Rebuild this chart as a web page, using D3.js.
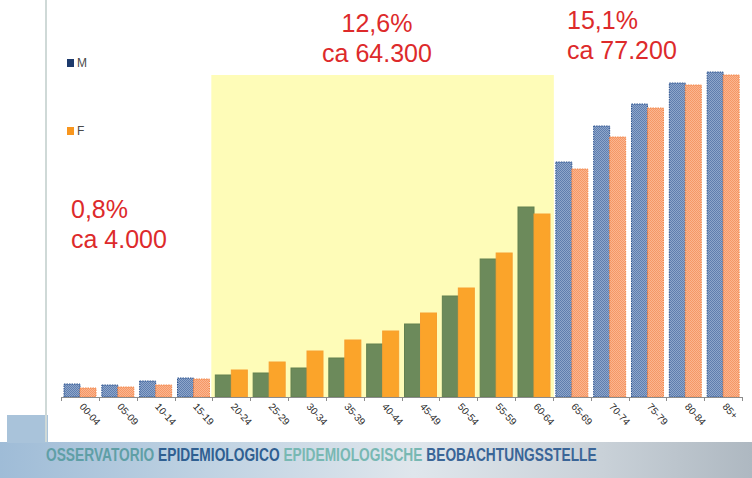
<!DOCTYPE html>
<html>
<head>
<meta charset="utf-8">
<script src="https://cdn.jsdelivr.net/npm/d3@7"></script>
<style>
  html, body { margin: 0; padding: 0; background: #fff; }
  svg { display: block; font-family: "Liberation Sans", Arial, sans-serif; }
</style>
</head>
<body>
<svg id="chart" width="752" height="478"></svg>
<script>
// Age classes and relative values for males (M) and females (F)
const ageGroups = ["00-04","05-09","10-14","15-19","20-24","25-29","30-34","35-39","40-44",
                   "45-49","50-54","55-59","60-64","65-69","70-74","75-79","80-84","85+"];
const valuesM = [13, 12, 16, 19, 22, 24, 29, 39, 53, 73, 101, 138, 190, 235, 271, 293, 314, 325];
const valuesF = [9, 10, 12, 18, 27, 35, 46, 57, 66, 84, 109, 144, 183, 228, 260, 289, 312, 322];
// Age range that is highlighted in the middle
const highlightFrom = "20-24";
const highlightTo = "60-64";
// Share/count annotations per age band
const notes = [
  { lines: ["0,8%", "ca 4.000"], anchor: "start" },
  { lines: ["12,6%", "ca 64.300"], anchor: "middle" },
  { lines: ["15,1%", "ca 77.200"], anchor: "start" }
];
const legendItems = ["M", "F"];
const footerParts = [
  { text: "OSSERVATORIO ", color: "#5f9fa6" },
  { text: "EPIDEMIOLOGICO ", color: "#2f5f91" },
  { text: "EPIDEMIOLOGISCHE ", color: "#78b8b3" },
  { text: "BEOBACHTUNGSSTELLE", color: "#3a6597" }
];

const svg = d3.select("#chart");
const W = 752, H = 478;

const x = d3.scaleBand().domain(ageGroups).range([61, 742]).paddingInner(0).paddingOuter(0);
const y = d3.scaleLinear().domain([0, 330]).range([397, 67]);

const defs = svg.append("defs");
// textured fills for the bars outside the highlighted range
function checker(id, c1, c2) {
  const p = defs.append("pattern").attr("id", id).attr("width", 2).attr("height", 2)
    .attr("patternUnits", "userSpaceOnUse");
  p.append("rect").attr("width", 2).attr("height", 2).attr("fill", c1);
  p.append("rect").attr("width", 1).attr("height", 1).attr("fill", c2);
  p.append("rect").attr("x", 1).attr("y", 1).attr("width", 1).attr("height", 1).attr("fill", c2);
}
checker("texM", "#8ea6cb", "#5f7eae");
checker("texF", "#fbb590", "#f59866");

const grad = defs.append("linearGradient").attr("id", "band").attr("x1", 0).attr("x2", 1).attr("y1", 0).attr("y2", 0);
grad.append("stop").attr("offset", "0").attr("stop-color", "#9fbcd7");
grad.append("stop").attr("offset", "0.25").attr("stop-color", "#bcd0e1");
grad.append("stop").attr("offset", "0.55").attr("stop-color", "#dfe6ec");
grad.append("stop").attr("offset", "0.8").attr("stop-color", "#c9d1d8");
grad.append("stop").attr("offset", "1").attr("stop-color", "#aeb8c1");

// footer band
svg.append("rect").attr("x", 0).attr("y", 442).attr("width", W).attr("height", H - 442).attr("fill", "url(#band)");
svg.append("rect").attr("x", 7).attr("y", 415).attr("width", 41).attr("height", 28).attr("fill", "#a9c3da");

// left frame line
svg.append("rect").attr("x", 45).attr("y", 0).attr("width", 2).attr("height", 442).attr("fill", "#cfd9d7");

// highlighted age range
const hx0 = x(highlightFrom) - 1;
const hx1 = x(highlightTo) + x.bandwidth() + 1;
svg.append("rect").attr("x", hx0).attr("y", 75).attr("width", hx1 - hx0).attr("height", y(0) - 75)
  .attr("fill", "#fefcb8");

const inHighlight = g => ageGroups.indexOf(g) >= ageGroups.indexOf(highlightFrom) &&
                         ageGroups.indexOf(g) <= ageGroups.indexOf(highlightTo);
const bw = 16, pad = 3;

const bars = svg.append("g");
bars.selectAll("rect.m").data(ageGroups).join("rect").attr("class", "m")
  .attr("x", g => x(g) + pad)
  .attr("y", (g, i) => y(valuesM[i]))
  .attr("width", bw)
  .attr("height", (g, i) => y(0) - y(valuesM[i]))
  .attr("fill", g => inHighlight(g) ? "#6c8a5b" : "url(#texM)")
  .attr("stroke", g => inHighlight(g) ? "#62804f" : "#2f5590")
  .attr("stroke-width", 1)
  .attr("stroke-dasharray", g => inHighlight(g) ? null : "1.5,1");

bars.selectAll("rect.f").data(ageGroups).join("rect").attr("class", "f")
  .attr("x", g => x(g) + pad + bw)
  .attr("y", (g, i) => y(valuesF[i]))
  .attr("width", bw)
  .attr("height", (g, i) => y(0) - y(valuesF[i]))
  .attr("fill", g => inHighlight(g) ? "#fba42a" : "url(#texF)")
  .attr("stroke", g => inHighlight(g) ? "#f7a030" : "#f2874a")
  .attr("stroke-width", 1)
  .attr("stroke-dasharray", g => inHighlight(g) ? null : "1.5,1");

// x axis
const axis = svg.append("g").attr("transform", "translate(0,397)");
axis.append("line").attr("x1", 61).attr("x2", 742).attr("y1", 0.5).attr("y2", 0.5)
  .attr("stroke", "#8c8c8c").attr("stroke-width", 1);
const tickPos = ageGroups.map(g => x(g)).concat([x.range()[1]]);
axis.selectAll("line.tick").data(tickPos).join("line").attr("class", "tick")
  .attr("x1", d => Math.round(d) + 0.5).attr("x2", d => Math.round(d) + 0.5)
  .attr("y1", 0).attr("y2", 4).attr("stroke", "#8c8c8c");
axis.selectAll("text").data(ageGroups).join("text")
  .attr("transform", g => `translate(${x(g) + x.bandwidth() / 2 - 1},${10}) rotate(48)`)
  .attr("font-size", 10).attr("fill", "#2a2a2a")
  .text(g => g);

// legend
const legend = svg.append("g");
legendItems.forEach((k, i) => {
  const ly = i === 0 ? 64 : 132;
  legend.append("rect").attr("x", 67).attr("y", ly - 5).attr("width", 7).attr("height", 8)
    .attr("fill", i === 0 ? "#1d3a6c" : "#f8961e");
  legend.append("text").attr("x", 77).attr("y", ly + 3).attr("font-size", 12).attr("fill", "#4a4a4a").text(k);
});

// annotations
const notePos = [[71, 218], [377, 32], [567, 29]];
notes.forEach((n, i) => {
  const t = svg.append("text").attr("fill", "#dd2a2b").attr("font-size", 25).attr("text-anchor", n.anchor);
  n.lines.forEach((line, j) => {
    t.append("tspan").attr("x", notePos[i][0]).attr("y", notePos[i][1] + j * 30).text(line);
  });
});

// footer text, squeezed horizontally to a condensed look
const footer = svg.append("g");
const ft = footer.append("text").attr("x", 0).attr("y", 0)
  .attr("font-weight", "bold").attr("font-size", 19);
footerParts.forEach(p => ft.append("tspan").attr("fill", p.color).text(p.text));
const natural = ft.node().getComputedTextLength();
footer.attr("transform", `translate(46,461) scale(${551 / natural},1)`);
</script>
</body>
</html>
